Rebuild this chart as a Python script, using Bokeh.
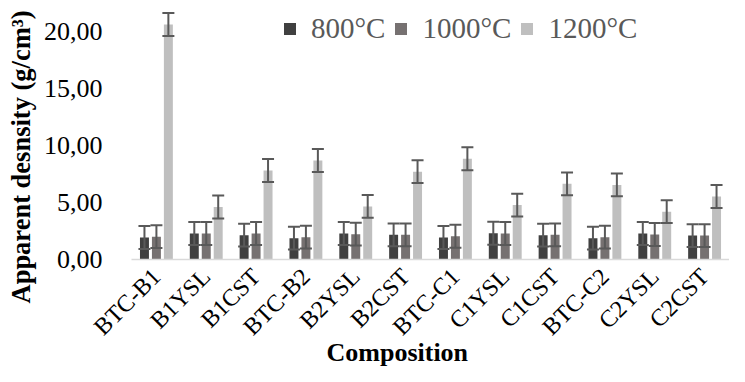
import math
from bokeh.plotting import figure
from bokeh.models import (ColumnDataSource, Whisker, TeeHead, Legend, LegendItem,
                          FixedTicker, CustomJSTickFormatter, Range1d, Title)
from bokeh.transform import dodge
from bokeh.embed import file_html
from bokeh.resources import INLINE

categories = ["BTC-B1", "B1YSL", "B1CST", "BTC-B2", "B2YSL", "B2CST",
              "BTC-C1", "C1YSL", "C1CST", "BTC-C2", "C2YSL", "C2CST"]
series_names = ["800°C", "1000°C", "1200°C"]
d800 = [1.93, 2.28, 2.13, 1.87, 2.28, 2.16, 1.93, 2.30, 2.13, 1.87, 2.28, 2.10]
d1000 = [2.00, 2.28, 2.28, 1.96, 2.22, 2.16, 2.04, 2.28, 2.16, 1.96, 2.19, 2.10]
d1200 = [20.60, 4.60, 7.80, 8.68, 4.65, 7.70, 8.83, 4.77, 6.63, 6.54, 4.19, 5.52]
e800 = [1.0, 1.0, 1.0, 1.0, 1.0, 1.0, 1.0, 1.0, 1.0, 1.0, 1.0, 1.0]
e1000 = [1.0, 1.0, 1.0, 1.0, 1.0, 1.0, 1.0, 1.0, 1.0, 1.0, 1.0, 1.0]
e1200 = [1.0, 1.0, 1.0, 1.0, 1.0, 1.0, 1.0, 1.0, 1.0, 1.0, 1.0, 1.0]
y_ticks = [0, 5, 10, 15, 20]

colors = ["#404040", "#767171", "#bfbfbf"]
err_color = "#595959"
FONT = "Liberation Serif"

data = dict(cat=categories)
for key, vals, errs in (("s0", d800, e800), ("s1", d1000, e1000), ("s2", d1200, e1200)):
    data[key] = vals
    data[key + "_lo"] = [v - e for v, e in zip(vals, errs)]
    data[key + "_hi"] = [v + e for v, e in zip(vals, errs)]
src = ColumnDataSource(data)

p = figure(x_range=categories, y_range=Range1d(0, 22), width=729, height=366,
           output_backend="svg", toolbar_location=None,
           min_border_left=128, min_border_right=0, min_border_top=8, min_border_bottom=107)

offsets = [-0.24, 0.0, 0.24]
bw = 0.18
renderers = []
for i, key in enumerate(["s0", "s1", "s2"]):
    r = p.vbar(x=dodge("cat", offsets[i], range=p.x_range), top=key, width=bw,
               source=src, fill_color=colors[i], line_color=None)
    renderers.append(r)
    w = Whisker(base=dodge("cat", offsets[i], range=p.x_range), upper=key + "_hi",
                lower=key + "_lo", source=src, line_color=err_color, line_width=2,
                level="annotation",
                upper_head=TeeHead(size=12, line_color=err_color, line_width=2),
                lower_head=TeeHead(size=12, line_color=err_color, line_width=2))
    p.add_layout(w)

legend = Legend(items=[LegendItem(label=series_names[i], renderers=[renderers[i]]) for i in range(3)],
                orientation="horizontal", location=(151, 214), padding=0, margin=0,
                glyph_width=15, glyph_height=15, label_standoff=14, spacing=8,
                border_line_color=None, background_fill_alpha=0,
                label_text_font=FONT, label_text_font_size="29px", label_text_color="#595959")
p.add_layout(legend)

p.xgrid.visible = False
p.ygrid.visible = False
p.outline_line_color = None

p.xaxis.axis_line_color = "#d9d9d9"
p.xaxis.axis_line_width = 1.5
p.xaxis.major_tick_line_color = None
p.xaxis.minor_tick_line_color = None
p.xaxis.major_label_orientation = math.pi / 4
p.xaxis.major_label_standoff = 7
p.xaxis.major_label_text_font = FONT
p.xaxis.major_label_text_font_size = "24px"
p.xaxis.major_label_text_color = "#000000"

p.yaxis.axis_line_color = None
p.yaxis.major_tick_line_color = None
p.yaxis.minor_tick_line_color = None
p.yaxis.ticker = FixedTicker(ticks=y_ticks)
p.yaxis.formatter = CustomJSTickFormatter(code="return tick.toFixed(2).replace('.', ',');")
p.yaxis.major_label_standoff = 23
p.yaxis.major_label_text_font = FONT
p.yaxis.major_label_text_font_size = "26px"
p.yaxis.major_label_text_color = "#000000"

p.add_layout(Title(text="Composition", align="left", offset=195, standoff=-38,
                   vertical_align="middle",
                   text_font=FONT, text_font_size="26px", text_font_style="bold",
                   text_color="#000000"), "below")
p.add_layout(Title(text="Apparent desnsity (g/cm³)", align="left", offset=-44, standoff=8,
                   vertical_align="middle",
                   text_font=FONT, text_font_size="26.5px", text_font_style="bold",
                   text_color="#000000"), "left")

open("out.html", "w").write(file_html(p, INLINE))
